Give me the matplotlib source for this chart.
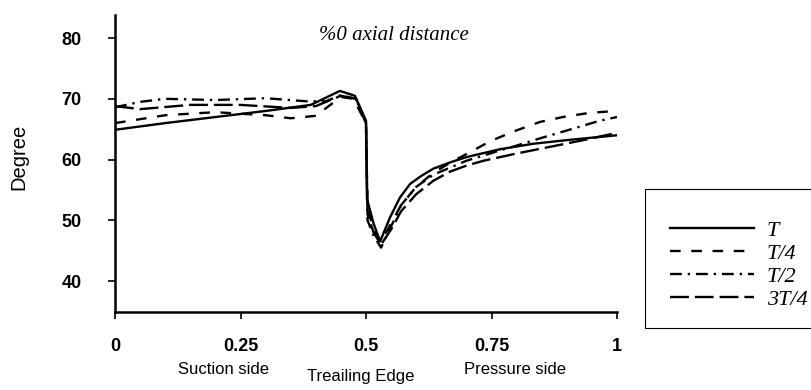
import matplotlib
matplotlib.use("Agg")
import matplotlib.pyplot as plt
from matplotlib.patches import Rectangle

# ---- data ----
x_T = [0.0, 0.1, 0.2, 0.3, 0.39, 0.448, 0.478, 0.500, 0.502, 0.515, 0.528,
       0.548, 0.568, 0.588, 0.61, 0.634, 0.67, 0.70, 0.767, 0.833, 0.90, 1.0]
y_T = [64.9, 66.0, 67.0, 68.0, 69.0, 71.3, 70.5, 66.4, 53.5, 49.5, 46.5,
       50.5, 53.8, 56.0, 57.3, 58.5, 59.6, 60.4, 61.7, 62.6, 63.2, 64.0]

x_T4 = [0.0, 0.1, 0.2, 0.3, 0.35, 0.40, 0.45, 0.475, 0.500, 0.503, 0.515, 0.53,
        0.55, 0.57, 0.60, 0.634, 0.67, 0.707, 0.747, 0.793, 0.847, 0.892, 0.946, 1.0]
y_T4 = [66.0, 67.3, 67.8, 67.3, 66.8, 67.2, 70.3, 70.0, 66.0, 52.0, 48.5, 46.5,
        49.5, 52.5, 55.5, 57.8, 59.6, 61.2, 63.0, 64.6, 66.2, 67.0, 67.7, 68.0]

x_T2 = [0.0, 0.05, 0.1, 0.2, 0.3, 0.38, 0.42, 0.45, 0.48, 0.500, 0.503, 0.515, 0.53,
        0.55, 0.57, 0.60, 0.634, 0.70, 0.767, 0.80, 0.847, 0.913, 0.966, 1.0]
y_T2 = [68.6, 69.5, 70.0, 69.8, 70.1, 69.6, 69.6, 70.6, 70.0, 66.0, 50.0, 47.5, 45.5,
        49.0, 52.5, 55.5, 57.5, 59.8, 61.5, 62.3, 63.5, 65.1, 66.4, 67.0]

x_3T4 = [0.0, 0.05, 0.15, 0.25, 0.35, 0.40, 0.45, 0.48, 0.500, 0.503, 0.515, 0.53,
         0.55, 0.57, 0.60, 0.634, 0.667, 0.70, 0.734, 0.80, 0.867, 0.933, 1.0]
y_3T4 = [68.8, 68.3, 69.0, 69.0, 68.5, 68.8, 70.5, 70.0, 66.0, 51.0, 48.0, 46.0,
         48.5, 51.5, 54.3, 56.5, 58.0, 59.0, 59.8, 61.0, 62.1, 63.2, 64.4]

labels = ["T", "T/4", "T/2", "3T/4"]
xticks = [0, 0.25, 0.5, 0.75, 1]
xtick_labels = ["0", "0.25", "0.5", "0.75", "1"]
yticks = [40, 50, 60, 70, 80]
side_labels = ["Suction side", "Treailing Edge", "Pressure side"]

W, H = 811, 390
fig = plt.figure(figsize=(W / 100, H / 100), dpi=100)
ax = fig.add_axes([115 / W, 1 - 312 / H, (617 - 115) / W, (312 - 15) / H])

lw = 1.7
ax.plot(x_T, y_T, color="black", lw=lw, ls="-", label=labels[0])
ax.plot(x_T4, y_T4, color="black", lw=lw, ls=(0, (4.5, 4.5)), label=labels[1])
ax.plot(x_T2, y_T2, color="black", lw=lw, ls=(0, (5, 2.5, 1, 2.5)), label=labels[2])
ax.plot(x_3T4, y_3T4, color="black", lw=lw, ls=(0, (8, 2.5)), label=labels[3])

ax.set_xlim(0, 1)
ax.set_ylim(34.9, 83.8)
ax.set_xticks(xticks)
ax.set_xticklabels(xtick_labels)
ax.set_yticks(yticks)

for s in ["top", "right"]:
    ax.spines[s].set_visible(False)
for s in ["left", "bottom"]:
    ax.spines[s].set_linewidth(1.8)

sans = "Liberation Sans"
serif = "Liberation Serif"
ax.tick_params(axis="y", direction="out", length=5, width=1.2, pad=19, labelsize=13)
ax.tick_params(axis="x", direction="out", length=5, width=1.2, pad=14, labelsize=13)
for t in ax.get_xticklabels() + ax.get_yticklabels():
    t.set_fontfamily(sans)
    t.set_fontweight("bold")

fig.text(19 / W, 1 - 157 / H, "Degree", rotation=90, ha="center", va="center",
         family=sans, fontsize=14.5)

for (cx, cy), txt in zip([(224, 369), (361, 376), (515, 369)], side_labels):
    fig.text(cx / W, 1 - cy / H, txt, ha="center", va="center", family=sans, fontsize=12)

fig.text(394 / W, 1 - 35 / H, "%0 axial distance", ha="center", va="center",
         family=serif, style="italic", fontsize=15)

# legend frame (extends past the right edge)
fig.patches.append(Rectangle((645 / W, 1 - 328 / H), 0.3, (328 - 189) / H,
                             transform=fig.transFigure, fill=False,
                             edgecolor="black", lw=0.8))
handles, labs = ax.get_legend_handles_labels()
leg = fig.legend(handles, labs, loc="upper left",
                 bbox_to_anchor=(670 / W, 1 - 220 / H), frameon=False,
                 prop={"family": serif, "style": "italic", "size": 16},
                 handlelength=3.8, handletextpad=0.55, labelspacing=0.12,
                 borderpad=0, borderaxespad=0)

fig.savefig("out.png", dpi=100)
